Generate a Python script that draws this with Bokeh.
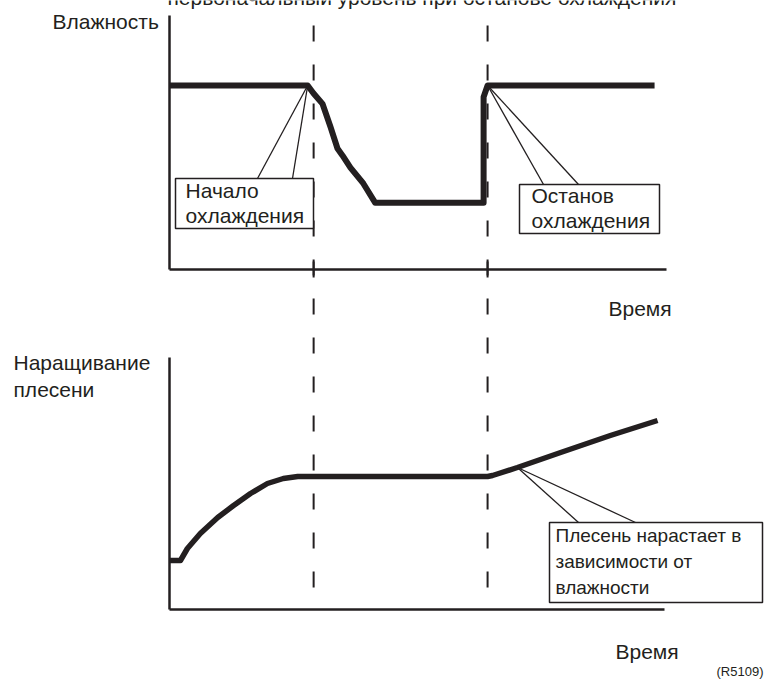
from bokeh.plotting import figure
from bokeh.models import Range1d
from bokeh.core.properties import value
from bokeh.embed import file_html
from bokeh.resources import INLINE

# ---------------- data (arbitrary units) ----------------
cool_start = 29.0      # time of cooling start
cool_stop = 64.0       # time of cooling stop

hum_time = [0, 27.8, 29.0, 30.8, 32.4, 33.8, 34.8, 36.4, 39.0, 41.4, 63.2, 63.2, 64.0, 97.6]
hum_val = [80, 80, 76.5, 72, 62, 52.6, 49.6, 44.3, 37.4, 29.0, 29.0, 75, 80, 80]

mold_time = [0, 2.2, 3.6, 6.2, 9.7, 12.9, 16.3, 19.7, 22.9, 25.8, 64.0, 65.0, 70.0, 78.7, 88.7, 98.2]
mold_val = [4.9, 4.9, 6.1, 7.6, 9.2, 10.4, 11.6, 12.6, 13.1, 13.3, 13.3, 13.4, 14.2, 15.7, 17.4, 18.9]

title_text = "первоначальный уровень при останове охлаждения"
hum_label = "Влажность"
mold_label = ["Наращивание", "плесени"]
time_label = "Время"
callout_start = ["Начало", "охлаждения"]
callout_stop = ["Останов", "охлаждения"]
callout_mold = ["Плесень нарастает в", "зависимости от", "влажности"]
ref_code = "(R5109)"

# ---------------- layout ----------------
W, H = 766, 684
X0, XS = 169.0, 4.97          # pixel of t=0, pixels per time unit
HY0, HS = 269.0, 2.3          # humidity panel baseline pixel, px per unit
MY0, MS = 609.0, 10.0         # mold panel baseline pixel, px per unit
TDY = -8                      # text baseline correction

def tx(px):
    return (px - X0) / XS

def hpx(h):
    return HY0 - h * HS

def mpx(m):
    return MY0 - m * MS

INK = "#231f20"
FONT = value("Liberation Sans")

p = figure(width=W, height=H,
           x_range=Range1d(tx(0), tx(W)), y_range=Range1d(H, 0),
           x_axis_type=None, y_axis_type=None,
           output_backend="svg", toolbar_location=None,
           min_border=0, outline_line_color=None)
p.xgrid.visible = False
p.ygrid.visible = False
p.extra_y_ranges = {
    "hum": Range1d(-(H - HY0) / HS, HY0 / HS),
    "mold": Range1d(-(H - MY0) / MS, MY0 / MS),
}

# dashed event lines
for t in (cool_start, cool_stop):
    p.line([t, t], [25, 593], line_color=INK, line_width=2, line_dash="16 23")

# axes
p.segment(x0=[0, 0], y0=[15, 269], x1=[0, tx(666)], y1=[269, 269], line_color=INK, line_width=2.5)
p.segment(x0=[0, 0], y0=[357, 609], x1=[0, tx(664)], y1=[609, 609], line_color=INK, line_width=2.5)
# ticks on the upper time axis
p.segment(x0=[cool_start, cool_stop], y0=[261, 261], x1=[cool_start, cool_stop], y1=[277, 277],
          line_color=INK, line_width=2)

# curves
p.line(hum_time, hum_val, y_range_name="hum", line_color=INK, line_width=6, line_join="round")
p.line(mold_time, mold_val, y_range_name="mold", line_color=INK, line_width=5.5, line_join="round")

def callout(left, top, right, bottom, attach_x, xt, yt):
    p.segment(x0=[tx(attach_x[0]), tx(attach_x[1])], y0=[top, top],
              x1=[xt, xt], y1=[yt, yt], line_color=INK, line_width=1.3)
    p.quad(left=[tx(left)], right=[tx(right)], top=[top], bottom=[bottom],
           fill_color="white", line_color=INK, line_width=1.5)

def txt(x_px, y_px, s, size="21px", align="left"):
    p.text(x=[tx(x_px)], y=[y_px + TDY], text=[s], text_font=FONT, text_font_size=size,
           text_color=INK, text_align=align, text_baseline="alphabetic")

# callouts
callout(175, 178, 313, 228, (257, 292), hum_time[1], hpx(hum_val[1]))
txt(185, 198, callout_start[0]); txt(185, 223, callout_start[1])

callout(519, 184, 659, 233, (543, 578), hum_time[12], hpx(hum_val[12]))
txt(531, 203, callout_stop[0]); txt(531, 228, callout_stop[1])

callout(549, 522, 762, 602, (578, 635), mold_time[12], mpx(mold_val[12]))
for i, s in enumerate(callout_mold):
    txt(555, 543 + 26 * i, s, size="19px")

# labels
txt(167, 5, title_text)
txt(52, 29, hum_label)
txt(13, 370, mold_label[0]); txt(13, 397, mold_label[1])
txt(608, 316, time_label)
txt(615, 659, time_label)
txt(763, 679, ref_code, size="13px", align="right")

open("out.html", "w").write(file_html(p, INLINE))
